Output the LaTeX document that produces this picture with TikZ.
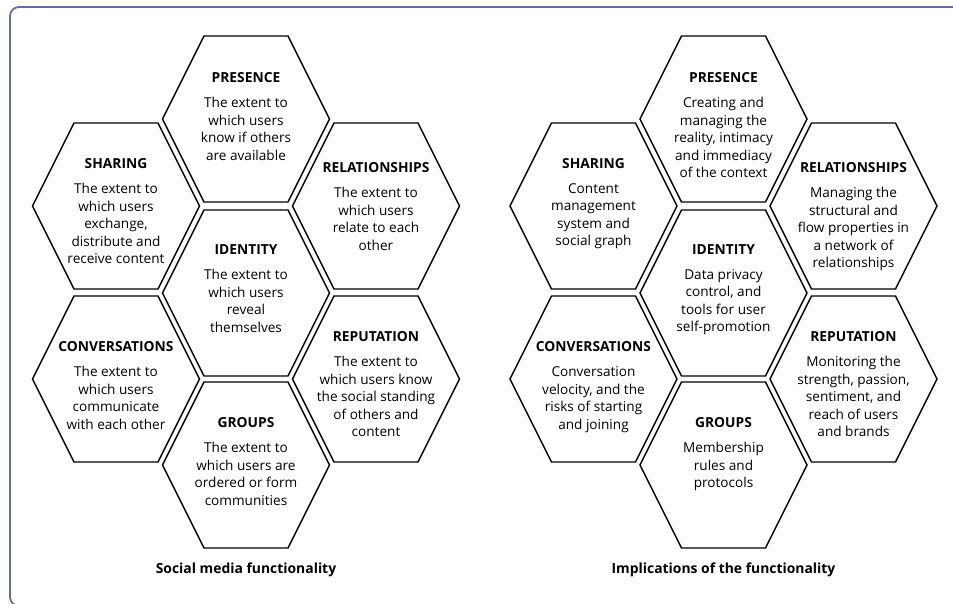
\documentclass[tikz,border=0pt]{standalone}
\usepackage{fontspec}
\setmainfont{Open Sans}
\usetikzlibrary{calc,positioning}
\definecolor{frameblue}{RGB}{98,110,158}
\def\hexagon[#1](#2){\draw[#1] ($(#2)+(-83.5,0)$) -- ++(41.5,-83) -- ++(84,0) -- ++(41.5,83) -- ++(-41.5,83) -- ++(-84,0) -- cycle;}
\tikzset{
	hexline/.style={line width=1.4pt, line join=miter},
	hexhead/.style={anchor=base, inner sep=0pt, font=\bfseries\fontsize{13.8}{15}\selectfont},
	hextext/.style={anchor=north, inner sep=0pt, align=center, font=\fontsize{13.6}{17.5}\selectfont},
	caplabel/.style={anchor=base, inner sep=0pt, font=\bfseries\fontsize{13.9}{16}\selectfont},
	node distance=15pt
}

\begin{document}
\begin{tikzpicture}[x=1pt, y=-1pt]
		%%%%% START %%%%%
		\useasboundingbox (0, 0) rectangle (953, 603);
		\draw[frameblue, line width=1.8pt, rounded corners=9pt] (10, 7) rectangle (961, 606);
		
		\foreach \dx in {0, 477.5} {
			\foreach \cx/\cy in {246/119, 116/206, 376/206, 246/293, 116/379, 376/379, 246/465}
				\hexagon[hexline](\cx+\dx, \cy);
		}
		
		% social media functionality
		\node[hexhead] (lpres) at (246, 82) {PRESENCE};
		\node[hextext, below=of lpres] (lpres-txt) {The extent to\\which users\\know if others\\are available};
		\node[hexhead] (lshar) at (116, 168) {SHARING};
		\node[hextext, below=of lshar] (lshar-txt) {The extent to\\which users\\exchange,\\distribute and\\receive content};
		\node[hexhead] (lrel) at (376, 172) {RELATIONSHIPS};
		\node[hextext, below=of lrel] (lrel-txt) {The extent to\\which users\\relate to each\\other};
		\node[hexhead] (lid) at (246, 254) {IDENTITY};
		\node[hextext, below=of lid] (lid-txt) {The extent to\\which users\\reveal\\themselves};
		\node[hexhead] (lconv) at (116, 351) {CONVERSATIONS};
		\node[hextext, below=of lconv] (lconv-txt) {The extent to\\which users\\communicate\\with each other};
		\node[hexhead] (lrep) at (376, 341) {REPUTATION};
		\node[hextext, below=of lrep] (lrep-txt) {The extent to\\which users know\\the social standing\\of others and\\content};
		\node[hexhead] (lgrp) at (246, 427) {GROUPS};
		\node[hextext, below=of lgrp] (lgrp-txt) {The extent to\\which users are\\ordered or form\\communities};
		\node[caplabel] (lcap) at (246, 573) {Social media functionality};
		
		% implications
		\node[hexhead] (rpres) at (723.5, 82) {PRESENCE};
		\node[hextext, below=of rpres] (rpres-txt) {Creating and\\managing the\\reality, intimacy\\and immediacy\\of the context};
		\node[hexhead] (rshar) at (593.5, 168) {SHARING};
		\node[hextext, below=of rshar] (rshar-txt) {Content\\management\\system and\\social graph};
		\node[hexhead] (rrel) at (853.5, 172) {RELATIONSHIPS};
		\node[hextext, below=of rrel] (rrel-txt) {Managing the\\structural and\\flow properties in\\a network of\\relationships};
		\node[hexhead] (rid) at (723.5, 254) {IDENTITY};
		\node[hextext, below=of rid] (rid-txt) {Data privacy\\control, and\\tools for user\\self-promotion};
		\node[hexhead] (rconv) at (593.5, 351) {CONVERSATIONS};
		\node[hextext, below=of rconv] (rconv-txt) {Conversation\\velocity, and the\\risks of starting\\and joining};
		\node[hexhead] (rrep) at (853.5, 341) {REPUTATION};
		\node[hextext, below=of rrep] (rrep-txt) {Monitoring the\\strength, passion,\\sentiment, and\\reach of users\\and brands};
		\node[hexhead] (rgrp) at (723.5, 427) {GROUPS};
		\node[hextext, below=of rgrp] (rgrp-txt) {Membership\\rules and\\protocols};
		\node[caplabel] (rcap) at (723.5, 573) {Implications of the functionality};
		
		%%%%% END %%%%%
	\end{tikzpicture}
\end{document}
